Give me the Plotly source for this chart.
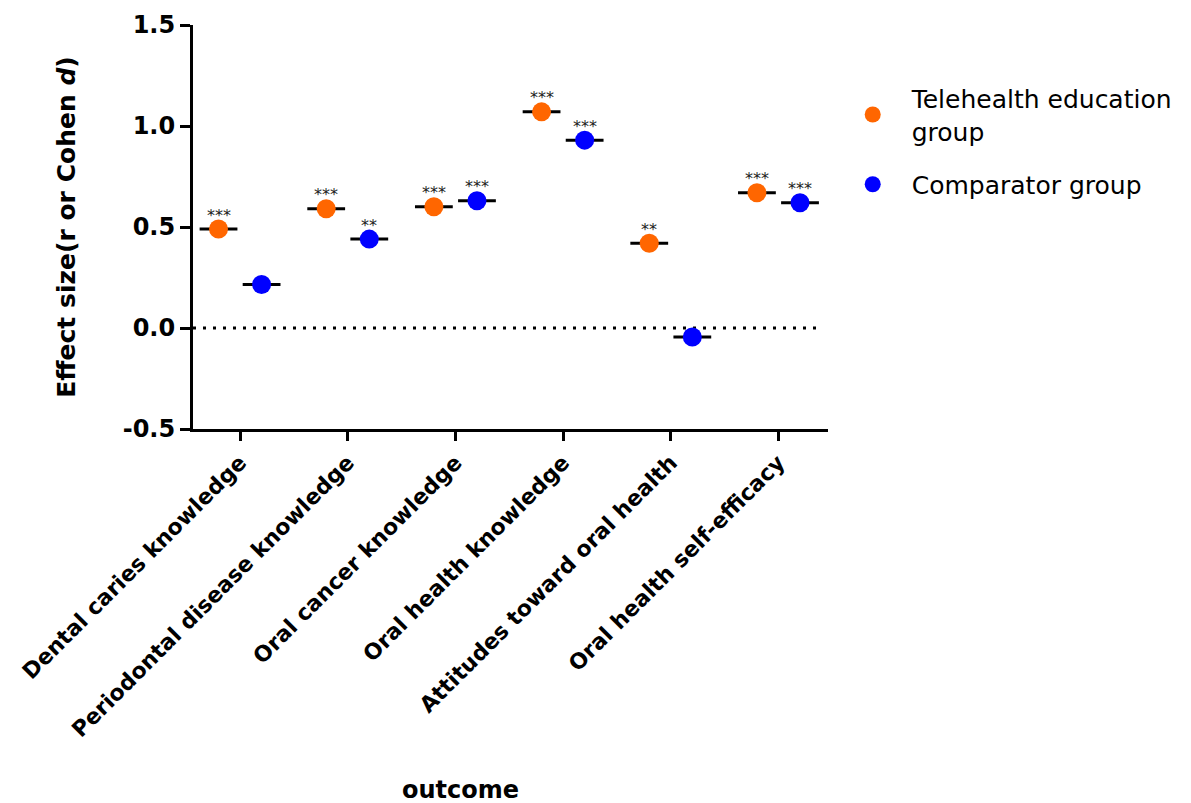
import plotly.graph_objects as go

categories = ["Dental caries knowledge", "Periodontal disease knowledge", "Oral cancer knowledge",
              "Oral health knowledge", "Attitudes toward oral health", "Oral health self-efficacy"]
telehealth = [0.49, 0.59, 0.60, 1.07, 0.42, 0.67]
comparator = [0.215, 0.44, 0.63, 0.93, -0.045, 0.62]
tele_sig = ["***", "***", "***", "***", "**", "***"]
comp_sig = ["", "**", "***", "***", "", "***"]
yticks = [-0.5, 0.0, 0.5, 1.0, 1.5]

ORANGE = "#FF6600"
BLUE = "#0000FF"
FONT = "DejaVu Sans"
offset = 0.2
idx = list(range(len(categories)))
x_t = [i - offset for i in idx]
x_c = [i + offset for i in idx]

fig = go.Figure()
fig.add_shape(type="line", xref="x", yref="y", x0=-0.437, x1=5.39, y0=0, y1=0,
              line=dict(color="black", width=3, dash="3px,7px"), layer="below")

for xs, ys in [(x_t, telehealth), (x_c, comparator)]:
    fig.add_trace(go.Scatter(x=xs, y=ys, mode="markers", showlegend=False, hoverinfo="skip",
                             legendgroup="bars",
                             marker=dict(symbol="line-ew", size=27, line=dict(color="black", width=3))))

fig.add_trace(go.Scatter(x=x_t, y=telehealth, mode="markers", name="Telehealth education<br>group",
                         legendgroup="t", marker=dict(color=ORANGE, size=19)))
fig.add_trace(go.Scatter(x=x_c, y=comparator, mode="markers", name="Comparator group",
                         legendgroup="c", marker=dict(color=BLUE, size=19)))

for xs, ys, sig in [(x_t, telehealth, tele_sig), (x_c, comparator, comp_sig)]:
    for xv, yv, s in zip(xs, ys, sig):
        if s:
            fig.add_annotation(x=xv, y=yv, text=s, showarrow=False, yshift=14,
                               font=dict(size=16, family=FONT, color="#222"),
                               xanchor="center", yanchor="middle")

fig.update_layout(
    width=1191, height=803,
    margin=dict(l=185, r=371, t=17, b=382, autoexpand=False),
    plot_bgcolor="white", paper_bgcolor="white",
    font=dict(family=FONT, color="black"),
    legend=dict(x=1.009, y=0.875, xanchor="left", yanchor="top", xref="paper",
                font=dict(size=25, family=FONT), traceorder="grouped", tracegroupgap=18,
                itemsizing="trace", itemwidth=68, bgcolor="rgba(0,0,0,0)"),
    xaxis=dict(range=[-0.437, 5.46], tickmode="array", tickvals=idx, ticktext=categories,
               tickangle=-45, showgrid=False, zeroline=False, showline=True, linecolor="black",
               linewidth=3, ticks="outside", ticklen=9, tickwidth=3, tickcolor="black",
               automargin=False,
               tickfont=dict(size=22, family=FONT, weight="bold")),
    yaxis=dict(range=[-0.5, 1.5], tickmode="array", tickvals=yticks,
               ticktext=[f"{v:.1f}" for v in yticks], automargin=False,
               showgrid=False, zeroline=False, showline=True, linecolor="black", linewidth=3,
               ticks="outside", ticklen=10, tickwidth=3, tickcolor="black",
               tickfont=dict(size=24, family=FONT, weight="bold"),
               title=dict(text="<b>Effect size(r or Cohen <i>d</i>)</b>", standoff=40,
                          font=dict(size=25, family=FONT))),
)
fig.add_annotation(text="<b>outcome</b>", xref="paper", yref="paper", x=(452-185)/635, y=-(782-421)/404,
                   showarrow=False, font=dict(size=24, family=FONT),
                   xanchor="center", yanchor="middle")

fig.write_html("out.html")
